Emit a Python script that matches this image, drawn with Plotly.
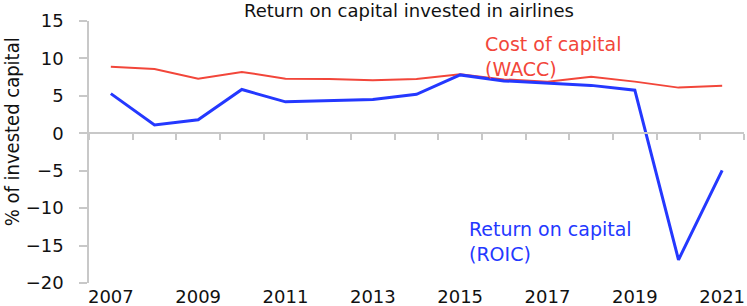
import plotly.graph_objects as go

years = list(range(2007, 2022))
wacc = [8.9, 8.6, 7.3, 8.2, 7.3, 7.25, 7.1, 7.25, 7.9, 7.2, 6.9, 7.55, 6.9, 6.1, 6.35]
roic = [5.3, 1.1, 1.8, 5.85, 4.2, 4.35, 4.5, 5.2, 7.8, 7.0, 6.65, 6.4, 5.75, -16.9, -4.95]
year_ticks = list(range(2007, 2022, 2))
y_ticks = [15, 10, 5, 0, -5, -10, -15, -20]
cat_ticks = [y + 0.5 for y in range(2006, 2022)]

RED = "#f2463a"
BLUE = "#2438ff"
GREY = "#c8c8c8"
FONT = "DejaVu Sans"
YMIN, YMAX = -20, 15

fig = go.Figure()
fig.add_trace(go.Scatter(x=years, y=wacc, mode="lines", line=dict(color=RED, width=2), hoverinfo="skip"))
fig.add_trace(go.Scatter(x=years, y=roic, mode="lines", line=dict(color=BLUE, width=3), hoverinfo="skip"))
# invisible trace so the overlaying category-tick axis is drawn
fig.add_trace(go.Scatter(x=[2006.5, 2021.5], y=[0, 0], xaxis="x2", mode="lines",
                         line=dict(width=0), showlegend=False, hoverinfo="skip"))

fig.update_layout(
    width=747, height=306,
    margin=dict(l=89, r=3, t=21, b=23),
    paper_bgcolor="white", plot_bgcolor="white",
    showlegend=False,
    font=dict(family=FONT, color="#111111"),
    xaxis=dict(range=[2006.5, 2021.5], tickvals=year_ticks, ticktext=[str(y) for y in year_ticks],
               showgrid=False, zeroline=False, showline=False, ticks="", automargin=False,
               ticklabelstandoff=1,
               tickfont=dict(size=18, color="#111111")),
    xaxis2=dict(range=[2006.5, 2021.5], overlaying="x", anchor="free",
                position=(0 - YMIN) / (YMAX - YMIN), side="bottom", automargin=False,
                tickvals=cat_ticks, showticklabels=False, ticks="outside", ticklen=6,
                tickcolor=GREY, tickwidth=1.5, showline=True, linecolor=GREY, linewidth=1.5,
                showgrid=False, zeroline=False),
    yaxis=dict(range=[YMIN, YMAX], tickvals=y_ticks, ticktext=[str(v).replace("-", "\u2212") for v in y_ticks],
               showgrid=False, zeroline=False, showline=True, linecolor=GREY, linewidth=1.5,
               ticks="outside", ticklen=8, tickcolor=GREY, tickwidth=1.5, automargin=False,
               ticklabelstandoff=12,
               tickfont=dict(size=18, color="#111111")),
)

fig.add_annotation(text="Return on capital invested in airlines", xref="paper", yref="paper",
                   x=0.489, y=1, yshift=11, xanchor="center", yanchor="middle", showarrow=False,
                   borderpad=0, font=dict(size=18, family=FONT, color="#111111"))
fig.add_annotation(text="% of invested capital", xref="paper", yref="paper",
                   x=0, xshift=-77, y=0.575, xanchor="center", yanchor="middle", showarrow=False,
                   textangle=-90, font=dict(size=20, family="DejaVu Sans Condensed", color="#111111"))
fig.add_annotation(text="Cost of capital<br>(WACC)", x=2015.52, y=10.2, xanchor="left", yanchor="middle",
                   align="left", showarrow=False, font=dict(size=19, family=FONT, color=RED))
fig.add_annotation(text="Return on capital<br>(ROIC)", x=2015.16, y=-14.4, xanchor="left", yanchor="middle",
                   align="left", showarrow=False, font=dict(size=19, family=FONT, color=BLUE))

fig.write_html("out.html", config={"displayModeBar": False},
               post_script="document.body.style.margin='0';")
